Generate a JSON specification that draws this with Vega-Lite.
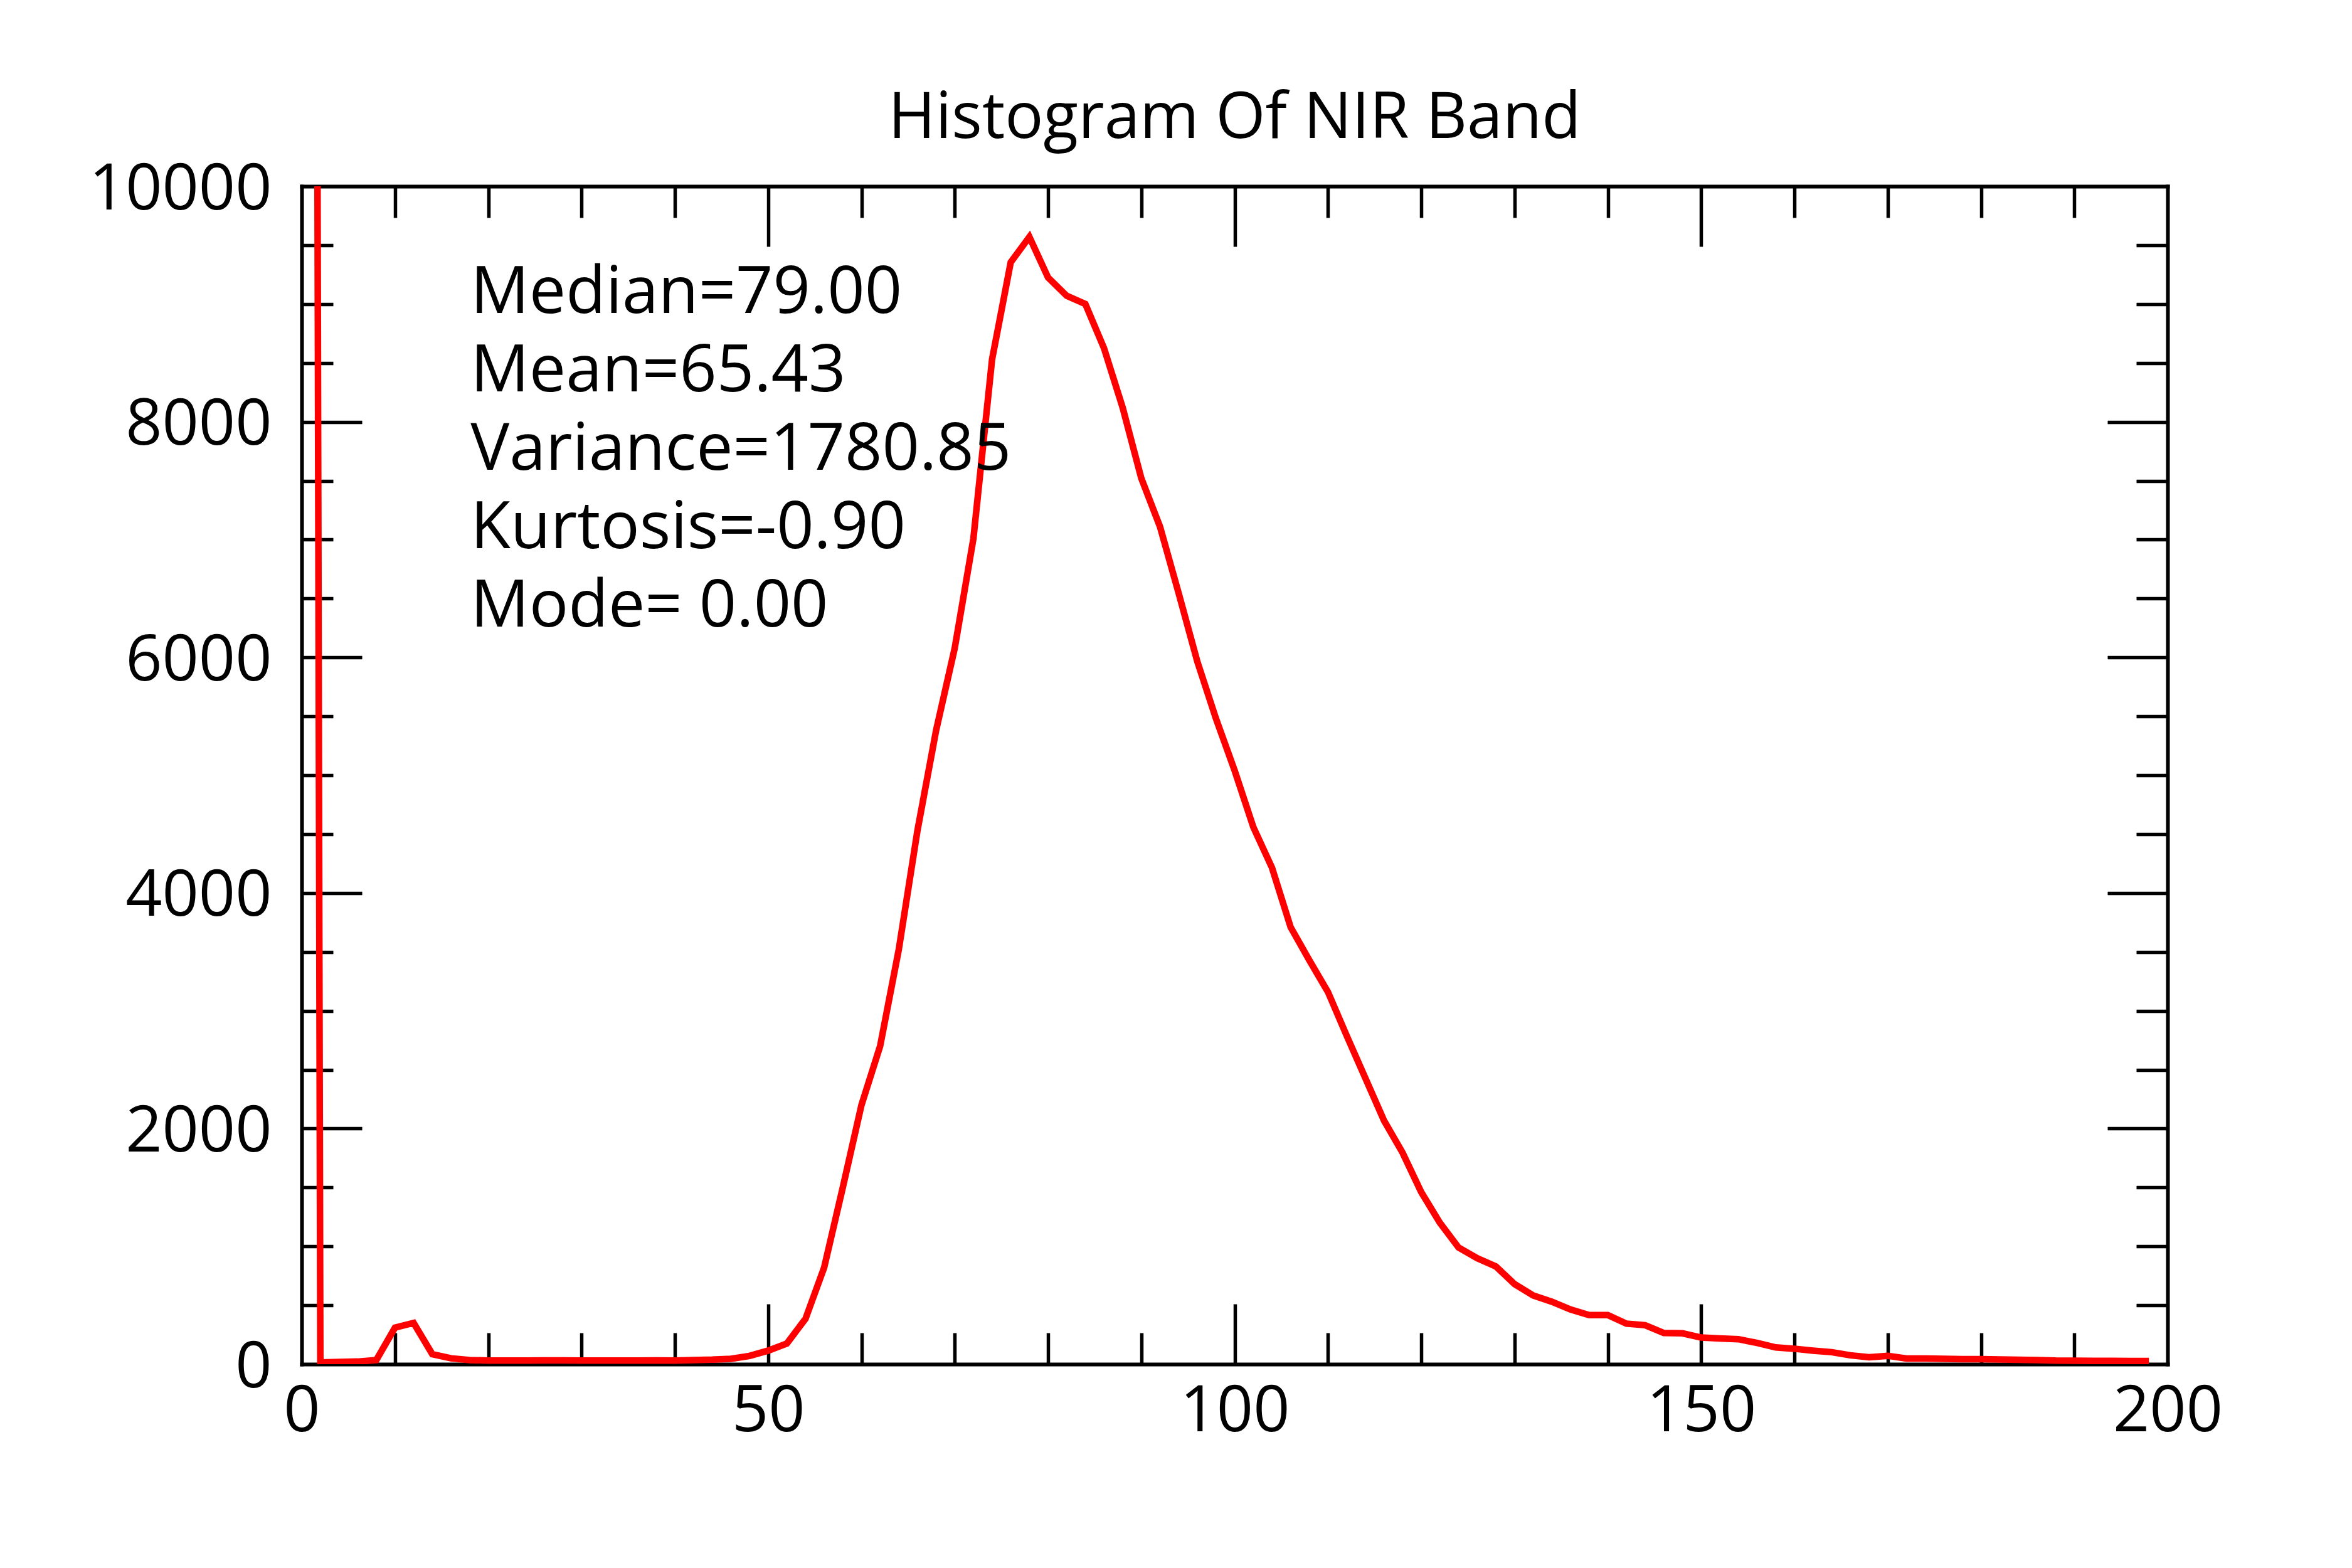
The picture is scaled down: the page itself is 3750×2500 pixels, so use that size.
{
  "$schema": "https://vega.github.io/schema/vega-lite/v6.json",
  "autosize": {"type": "none"},
  "width": 2975,
  "height": 1878,
  "padding": {"left": 481, "top": 297, "right": 294, "bottom": 325},
  "background": "white",
  "config": {
    "font": "Open Sans",
    "view": {"stroke": null},
    "axis": {
      "zindex": 1,
      "grid": false,
      "domainColor": "black",
      "domainWidth": 6,
      "domainCap": "square",
      "tickColor": "black",
      "tickWidth": 5.5,
      "labelColor": "black",
      "labelFont": "Open Sans",
      "labelFontSize": 102,
      "labelLimit": 0
    }
  },
  "title": {
    "text": "Histogram Of NIR Band",
    "font": "Open Sans",
    "fontSize": 102,
    "fontWeight": "normal",
    "color": "black",
    "anchor": "middle",
    "baseline": "alphabetic",
    "frame": "group",
    "offset": -71
  },
  "datasets": {
    "hist": [
      {"dn": 0, "count": 66000}, {"dn": 2, "count": 15}, {"dn": 4, "count": 18}, {"dn": 6, "count": 22},
      {"dn": 8, "count": 35}, {"dn": 10, "count": 310}, {"dn": 12, "count": 350}, {"dn": 14, "count": 85},
      {"dn": 16, "count": 50}, {"dn": 18, "count": 35}, {"dn": 20, "count": 30}, {"dn": 22, "count": 30},
      {"dn": 24, "count": 30}, {"dn": 26, "count": 32}, {"dn": 28, "count": 32}, {"dn": 30, "count": 30},
      {"dn": 32, "count": 30}, {"dn": 34, "count": 30}, {"dn": 36, "count": 30}, {"dn": 38, "count": 32},
      {"dn": 40, "count": 30}, {"dn": 42, "count": 35}, {"dn": 44, "count": 38}, {"dn": 46, "count": 45},
      {"dn": 48, "count": 70}, {"dn": 50, "count": 115}, {"dn": 52, "count": 175}, {"dn": 54, "count": 385},
      {"dn": 56, "count": 820}, {"dn": 58, "count": 1500}, {"dn": 60, "count": 2200}, {"dn": 62, "count": 2700},
      {"dn": 64, "count": 3520}, {"dn": 66, "count": 4530}, {"dn": 68, "count": 5380}, {"dn": 70, "count": 6080},
      {"dn": 72, "count": 7010}, {"dn": 74, "count": 8530}, {"dn": 76, "count": 9355}, {"dn": 78, "count": 9570},
      {"dn": 80, "count": 9225}, {"dn": 82, "count": 9070}, {"dn": 84, "count": 9000}, {"dn": 86, "count": 8625},
      {"dn": 88, "count": 8120}, {"dn": 90, "count": 7520}, {"dn": 92, "count": 7110}, {"dn": 94, "count": 6545},
      {"dn": 96, "count": 5965}, {"dn": 98, "count": 5480}, {"dn": 100, "count": 5040}, {"dn": 102, "count": 4560},
      {"dn": 104, "count": 4215}, {"dn": 106, "count": 3710}, {"dn": 108, "count": 3430}, {"dn": 110, "count": 3160},
      {"dn": 112, "count": 2790}, {"dn": 114, "count": 2430}, {"dn": 116, "count": 2070}, {"dn": 118, "count": 1795},
      {"dn": 120, "count": 1460}, {"dn": 122, "count": 1200}, {"dn": 124, "count": 990}, {"dn": 126, "count": 900},
      {"dn": 128, "count": 830}, {"dn": 130, "count": 680}, {"dn": 132, "count": 583}, {"dn": 134, "count": 530},
      {"dn": 136, "count": 464}, {"dn": 138, "count": 417}, {"dn": 140, "count": 417}, {"dn": 142, "count": 344},
      {"dn": 144, "count": 331}, {"dn": 146, "count": 265}, {"dn": 148, "count": 262}, {"dn": 150, "count": 226},
      {"dn": 152, "count": 218}, {"dn": 154, "count": 212}, {"dn": 156, "count": 180}, {"dn": 158, "count": 142},
      {"dn": 160, "count": 131}, {"dn": 162, "count": 115}, {"dn": 164, "count": 102}, {"dn": 166, "count": 75},
      {"dn": 168, "count": 59}, {"dn": 170, "count": 71}, {"dn": 172, "count": 48}, {"dn": 174, "count": 48},
      {"dn": 176, "count": 45}, {"dn": 178, "count": 43}, {"dn": 180, "count": 42}, {"dn": 182, "count": 40},
      {"dn": 184, "count": 37}, {"dn": 186, "count": 35}, {"dn": 188, "count": 30}, {"dn": 190, "count": 29},
      {"dn": 192, "count": 28}, {"dn": 194, "count": 28}, {"dn": 196, "count": 27}, {"dn": 198, "count": 27}
    ],
    "stats": [
      {"text": "Median=79.00\nMean=65.43\nVariance=1780.85\nKurtosis=-0.90\nMode= 0.00"}
    ]
  },
  "resolve": {"axis": {"x": "independent", "y": "independent"}},
  "layer": [
    {
      "data": {"name": "hist"},
      "mark": {"type": "line", "color": "#ff0000", "strokeWidth": 10.5, "clip": true},
      "encoding": {
        "x": {
          "field": "dn", "type": "quantitative",
          "scale": {"domain": [0, 200], "nice": false, "zero": false},
          "axis": {"orient": "bottom", "values": [0, 50, 100, 150, 200], "ticks": false, "domain": true,
                   "labelPadding": 25, "labelBaseline": "top", "labelFlush": false, "labelOverlap": false,
                   "format": "d", "title": null}
        },
        "y": {
          "field": "count", "type": "quantitative",
          "scale": {"domain": [0, 10000], "nice": false},
          "axis": {"orient": "left", "values": [0, 2000, 4000, 6000, 8000, 10000], "ticks": false, "domain": true,
                   "labelPadding": 48, "labelBaseline": "middle", "labelOffset": 5, "labelFlush": false,
                   "labelOverlap": false, "format": "d", "title": null}
        }
      }
    },
    {
      "data": {"name": "hist"},
      "mark": {"type": "line", "strokeOpacity": 0, "clip": true},
      "encoding": {
        "x": {
          "field": "dn", "type": "quantitative",
          "axis": {"orient": "bottom", "values": [10, 20, 30, 40, 50, 60, 70, 80, 90, 100, 110, 120, 130, 140, 150, 160, 170, 180, 190],
                   "labels": false, "domain": false, "title": null,
                   "tickSize": {"condition": {"test": "datum.value % 50 === 0", "value": -96}, "value": -50}}
        },
        "y": {
          "field": "count", "type": "quantitative",
          "axis": {"orient": "left", "values": [500, 1000, 1500, 2000, 2500, 3000, 3500, 4000, 4500, 5000, 5500, 6000, 6500, 7000, 7500, 8000, 8500, 9000, 9500],
                   "labels": false, "domain": false, "title": null,
                   "tickSize": {"condition": {"test": "datum.value % 2000 === 0", "value": -96}, "value": -50}}
        }
      }
    },
    {
      "data": {"name": "hist"},
      "mark": {"type": "line", "strokeOpacity": 0, "clip": true},
      "encoding": {
        "x": {
          "field": "dn", "type": "quantitative",
          "axis": {"orient": "top", "values": [10, 20, 30, 40, 50, 60, 70, 80, 90, 100, 110, 120, 130, 140, 150, 160, 170, 180, 190],
                   "labels": false, "domain": true, "title": null,
                   "tickSize": {"condition": {"test": "datum.value % 50 === 0", "value": -96}, "value": -50}}
        },
        "y": {
          "field": "count", "type": "quantitative",
          "axis": {"orient": "right", "values": [500, 1000, 1500, 2000, 2500, 3000, 3500, 4000, 4500, 5000, 5500, 6000, 6500, 7000, 7500, 8000, 8500, 9000, 9500],
                   "labels": false, "domain": true, "title": null,
                   "tickSize": {"condition": {"test": "datum.value % 2000 === 0", "value": -96}, "value": -50}}
        }
      }
    },
    {
      "data": {"name": "stats"},
      "mark": {"type": "text", "align": "left", "baseline": "alphabetic", "lineBreak": "\n", "lineHeight": 125,
               "font": "Open Sans", "fontSize": 104, "color": "black"},
      "encoding": {
        "x": {"datum": 18.1, "type": "quantitative", "axis": null},
        "y": {"datum": 8926, "type": "quantitative", "axis": null},
        "text": {"field": "text"}
      }
    }
  ]
}
